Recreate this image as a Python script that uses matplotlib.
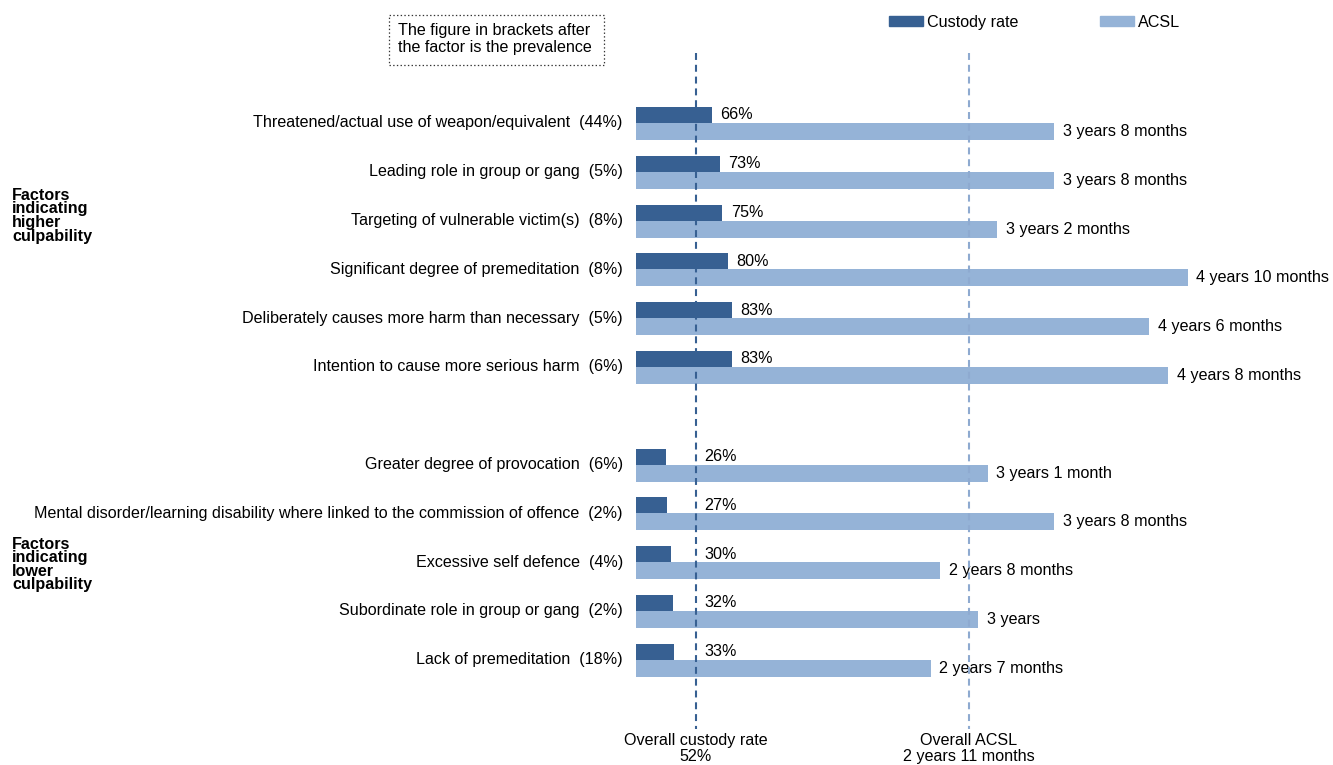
import matplotlib
matplotlib.use("Agg")
import matplotlib.pyplot as plt
from matplotlib.patches import Patch, Rectangle

plt.rcParams['font.family'] = ['Liberation Sans', 'DejaVu Sans']
plt.rcParams['lines.scale_dashes'] = False

# factors indicating higher culpability
high_factors = ["Threatened/actual use of weapon/equivalent",
                "Leading role in group or gang",
                "Targeting of vulnerable victim(s)",
                "Significant degree of premeditation",
                "Deliberately causes more harm than necessary",
                "Intention to cause more serious harm"]
high_prevalence = [44, 5, 8, 8, 5, 6]
high_custody = [66, 73, 75, 80, 83, 83]
high_acsl_years = [3, 3, 3, 4, 4, 4]
high_acsl_months = [8, 8, 2, 10, 6, 8]

# factors indicating lower culpability
low_factors = ["Greater degree of provocation",
               "Mental disorder/learning disability where linked to the commission of offence",
               "Excessive self defence",
               "Subordinate role in group or gang",
               "Lack of premeditation"]
low_prevalence = [6, 2, 4, 2, 18]
low_custody = [26, 27, 30, 32, 33]
low_acsl_years = [3, 3, 2, 3, 2]
low_acsl_months = [1, 8, 8, 0, 7]

overall_custody = 52
overall_years, overall_months = 2, 11

dark = '#376092'
light = '#95b3d7'
fs = 11.6


def acsl_text(y, m):
    s = f"{y} years"
    if m == 1:
        s += " 1 month"
    elif m > 1:
        s += f" {m} months"
    return s


factors = high_factors + low_factors
prevalence = high_prevalence + low_prevalence
custody = high_custody + low_custody
years = high_acsl_years + low_acsl_years
months = high_acsl_months + low_acsl_months
acsl = [y * 12 + m for y, m in zip(years, months)]
overall_acsl = overall_years * 12 + overall_months

rows = list(range(6)) + list(range(7, 12))

fig = plt.figure(figsize=(13.33, 7.65), dpi=100)
ax = fig.add_axes([636 / 1333, 0, 697 / 1333, 1])
ax2 = ax.twiny()

ax.set_xlim(0, 604.5)
ax2.set_xlim(0, 73.3)
ax.set_ylim(13.156, -2.52)

for a in (ax, ax2):
    a.axis('off')

ax.barh([r - 0.164 for r in rows], custody, height=0.33, color=dark, zorder=2)
ax2.barh([r + 0.174 for r in rows], acsl, height=0.35, color=light, zorder=2)

# overall reference lines
ax2.plot([overall_custody, overall_custody], [-1.43, 12.42], transform=ax.transData,
         color=dark, lw=1.5, dashes=(5, 3.5), zorder=5)
ax2.plot([overall_acsl, overall_acsl], [-1.43, 12.42],
         color='#8eaad0', lw=1.5, dashes=(5, 3.5), zorder=5)

for r, name, p, c, a_, y, m in zip(rows, factors, prevalence, custody, acsl, years, months):
    ax.annotate(f"{name}  ({p}%)", xy=(0, r), xycoords=('axes fraction', 'data'),
                xytext=(-9.5, 0), textcoords='offset points',
                ha='right', va='center', fontsize=fs)
    ax.annotate(f"{c}%", xy=(max(c, overall_custody), r - 0.164),
                xytext=(6, 0), textcoords='offset points',
                ha='left', va='center', fontsize=fs)
    ax2.annotate(acsl_text(y, m), xy=(a_, r + 0.174),
                 xytext=(6, 0), textcoords='offset points',
                 ha='left', va='center', fontsize=fs)

for r, txt in [(1.9, "Factors\nindicating\nhigher\nculpability"),
               (9.05, "Factors\nindicating\nlower\nculpability")]:
    ax.annotate(txt, xy=(12 / 1333, r), xycoords=('figure fraction', 'data'),
                ha='left', va='center', fontsize=fs, fontweight='bold',
                linespacing=0.88)

ax.text(overall_custody, 12.5, f"Overall custody rate\n{overall_custody}%",
        ha='center', va='top', fontsize=fs, linespacing=1.05)
ax2.text(overall_acsl, 12.5, "Overall ACSL\n" + acsl_text(overall_years, overall_months),
         ha='center', va='top', fontsize=fs, linespacing=1.05)

# note box
fig.patches.append(Rectangle((389 / 1333, 1 - 65 / 765), 215 / 1333, 50 / 765,
                             transform=fig.transFigure, fill=False,
                             ls=':', lw=0.9, ec='#333333'))
fig.text(398 / 1333, 1 - 39 / 765, "The figure in brackets after\nthe factor is the prevalence",
         ha='left', va='center', fontsize=fs, linespacing=1.1)

fig.legend(handles=[Patch(color=dark, label='Custody rate'),
                    Patch(color=light, label='ACSL')],
           loc='upper left', bbox_to_anchor=(889 / 1333, 1 - 15 / 765),
           ncol=2, frameon=False, fontsize=fs, handlelength=2.1,
           handleheight=0.55, handletextpad=0.25, columnspacing=5.1,
           borderpad=0, borderaxespad=0)

fig.savefig('out.png', dpi=100)
